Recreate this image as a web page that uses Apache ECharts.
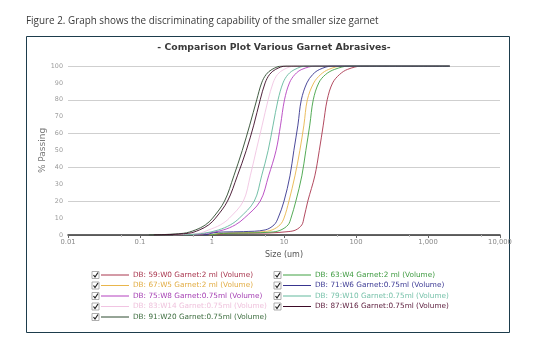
<!DOCTYPE html>
<html>
<head>
<meta charset="utf-8">
<title>Comparison Plot Various Garnet Abrasives</title>
<script src="https://cdn.jsdelivr.net/npm/echarts@6/dist/echarts.min.js"></script>
<style>
  html, body { margin: 0; padding: 0; background: #fff; }
  #chart { width: 537px; height: 345px; }
</style>
</head>
<body>
<div id="chart"></div>
<script>
// Cumulative particle size distributions: [size in um, % passing]
const seriesNames = [
  'DB: 59:W0 Garnet:2 ml (Volume)',
  'DB: 67:W5 Garnet:2 ml (Volume)',
  'DB: 75:W8 Garnet:0.75ml (Volume)',
  'DB: 83:W14 Garnet:0.75ml (Volume)',
  'DB: 91:W20 Garnet:0.75ml (Volume)',
  'DB: 63:W4 Garnet:2 ml (Volume)',
  'DB: 71:W6 Garnet:0.75ml (Volume)',
  'DB: 79:W10 Garnet:0.75ml (Volume)',
  'DB: 87:W16 Garnet:0.75ml (Volume)'
];

const w0 = [[1.15, 0], [1.31, 0.5], [1.69, 1], [6.0, 1.2], [11.4, 2], [14.6, 3], [17.7, 6], [18.9, 10], [21.4, 20], [26.8, 35], [30.9, 50], [35.1, 65], [39.8, 80], [47.4, 90], [59.2, 95], [76.3, 98], [123, 100], [2000, 100]];
const w5 = [[0.9, 0], [1.05, 0.5], [1.31, 1], [2.72, 1.3], [5.13, 2], [6.83, 3], [8.81, 6], [10.0, 10], [11.7, 20], [14.2, 35], [16.6, 50], [18.9, 65], [21.1, 80], [25.9, 90], [32.4, 95], [41.8, 98], [65, 100], [2000, 100]];
const w8 = [[0.56, 0], [0.84, 1], [1.44, 3], [2.11, 6], [2.81, 10], [4.67, 20], [6.11, 35], [7.76, 50], [8.95, 65], [10.16, 80], [11.9, 90], [14.2, 95], [17.7, 98], [27.6, 100], [2000, 100]];
const w14 = [[0.29, 0], [0.65, 1], [0.9, 3], [1.31, 6], [1.74, 10], [2.72, 20], [3.4, 35], [4.11, 50], [4.98, 65], [6.02, 80], [7.05, 90], [8.13, 95], [10.0, 98], [14.2, 100], [2000, 100]];
const w20 = [[0.133, 0], [0.4, 1], [0.59, 3], [0.81, 6], [1.02, 10], [1.49, 20], [2.01, 35], [2.63, 50], [3.34, 65], [4.18, 80], [4.89, 90], [5.65, 95], [6.83, 98], [9.4, 100], [2000, 100]];
const w4 = [[0.95, 0], [1.15, 0.5], [1.44, 1], [3.19, 1.2], [7.05, 1.8], [9.09, 3], [11.4, 6], [12.5, 10], [14.6, 20], [17.7, 35], [20.1, 50], [22.8, 65], [25.5, 80], [30.4, 90], [37.9, 95], [50.5, 98], [81, 100], [2000, 100]];
const w6 = [[0.76, 0], [0.9, 0.5], [1.05, 1.3], [1.44, 1.8], [2.72, 2], [5.47, 3], [7.28, 6], [8.27, 10], [10.0, 20], [12.1, 35], [13.7, 50], [15.6, 65], [17.4, 80], [20.8, 90], [25.1, 95], [31.4, 98], [47, 100], [2000, 100]];
const w10 = [[0.4, 0], [0.76, 1], [1.23, 3], [1.8, 6], [2.4, 10], [3.86, 20], [4.89, 35], [6.02, 50], [7.05, 65], [8.27, 80], [9.69, 90], [11.4, 95], [14.2, 98], [20.1, 100], [2000, 100]];
const w16 = [[0.156, 0], [0.47, 1], [0.67, 3], [0.9, 6], [1.12, 10], [1.64, 20], [2.25, 35], [2.99, 50], [3.8, 65], [4.67, 80], [5.47, 90], [6.31, 95], [7.64, 98], [10.7, 100], [2000, 100]];

const seriesValues = [w0, w5, w8, w14, w20, w4, w6, w10, w16];
const yTicks = [0, 10, 20, 30, 40, 50, 60, 70, 80, 90, 100];
const xTicks = [0.01, 0.1, 1, 10, 100, 1000, 10000];

// Line colours, in the same order as the series
const palette = ['#a9364e', '#e9b64c', '#b441bf', '#f1c4e2', '#2c4a2e', '#41a143', '#38358f', '#63b99d', '#3d0a27'];
const textColors = ['#a9364e', '#e2ad44', '#a53fb3', '#efc3dd', '#3e6e40', '#3f9b41', '#3c3a94', '#78c2aa', '#5a1a3a'];

const chart = echarts.init(document.getElementById('chart'), null, { renderer: 'canvas' });

const labelFont = 'DejaVu Sans';

// Legend: two columns with a check box, a line sample and the series name
const legendGraphics = [];
const legendCols = [
  { x: 92, items: [0, 1, 2, 3, 4] },
  { x: 274, items: [5, 6, 7, 8] }
];
legendCols.forEach(col => {
  col.items.forEach((idx, row) => {
    const y = 275 + row * 10.5;
    legendGraphics.push({
      type: 'rect', shape: { x: col.x, y: y - 3.5, width: 7, height: 7 },
      style: { fill: '#fff', stroke: '#9a9a9a', lineWidth: 0.8 }
    });
    legendGraphics.push({
      type: 'polyline', shape: { points: [[col.x + 1.5, y], [col.x + 3, y + 2], [col.x + 6, y - 2.5]] },
      style: { stroke: '#222', lineWidth: 1.2, fill: null }
    });
    legendGraphics.push({
      type: 'line', shape: { x1: col.x + 9, y1: y, x2: col.x + 37, y2: y },
      style: { stroke: palette[idx], lineWidth: 1 }
    });
    legendGraphics.push({
      type: 'text', x: col.x + 41, y: y,
      style: { text: seriesNames[idx], fill: textColors[idx], font: '7.3px "DejaVu Sans"', textVerticalAlign: 'middle' }
    });
  });
});

const option = {
  animation: false,
  backgroundColor: '#fff',
  title: {
    text: '- Comparison Plot Various Garnet Abrasives-',
    left: 269, top: 38, textAlign: 'center',
    textStyle: { fontFamily: labelFont, fontWeight: 'bold', fontSize: 9.3, color: '#3a3a3a' }
  },
  grid: { left: 68, right: 37, top: 66, bottom: 110 },
  xAxis: {
    type: 'log', logBase: 10, min: xTicks[0], max: xTicks[xTicks.length - 1],
    name: 'Size (um)', nameLocation: 'middle', nameGap: 16,
    nameTextStyle: { fontFamily: labelFont, fontSize: 8, color: '#555' },
    axisLine: { show: true, lineStyle: { color: '#333', width: 1.5 } },
    axisTick: { show: true, length: 3, lineStyle: { color: '#666' } },
    minorTick: { show: true, splitNumber: 2, length: 2, lineStyle: { color: '#bbb' } },
    axisLabel: {
      fontFamily: labelFont, fontSize: 6.8, color: '#8a8a8a', margin: 4,
      formatter: v => {
        const n = Number(Number(v).toPrecision(3));
        return n >= 1000 ? n.toLocaleString('en-US') : String(n);
      }
    },
    splitLine: { show: false }
  },
  yAxis: [
    {
      type: 'value', min: yTicks[0], max: yTicks[yTicks.length - 1], interval: 10,
      name: '% Passing', nameLocation: 'middle', nameGap: 21, nameRotate: 90,
      nameMoveOverlap: false,
      nameTextStyle: { fontFamily: labelFont, fontSize: 9, color: '#7a7a7a' },
      axisLine: { show: false }, axisTick: { show: false },
      axisLabel: { fontFamily: labelFont, fontSize: 6.4, color: '#9a9a9a', margin: 5 },
      splitLine: { show: false }
    },
    {
      type: 'value', min: 0, max: 100, interval: 20, position: 'left',
      axisLine: { show: false }, axisTick: { show: false }, axisLabel: { show: false },
      splitLine: { show: true, lineStyle: { color: '#cfcfcf', width: 1 } }
    }
  ],
  graphic: [
    {
      type: 'text', left: 26, top: 16,
      style: { text: 'Figure 2. Graph shows the discriminating capability of the smaller size garnet', font: '9.9px "Open Sans"', fill: '#3a3a3a' }
    },
    {
      type: 'rect', shape: { x: 26.5, y: 36.5, width: 483, height: 296 },
      style: { fill: null, stroke: '#1d3c4c', lineWidth: 1 }, z: -1
    }
  ].concat(legendGraphics),
  series: seriesValues.map((vals, i) => ({
    name: seriesNames[i],
    type: 'line',
    yAxisIndex: 0,
    data: vals,
    showSymbol: false,
    smooth: 0.35,
    lineStyle: { color: palette[i], width: 0.9 },
    itemStyle: { color: palette[i] }
  }))
};

chart.setOption(option);
</script>
</body>
</html>
